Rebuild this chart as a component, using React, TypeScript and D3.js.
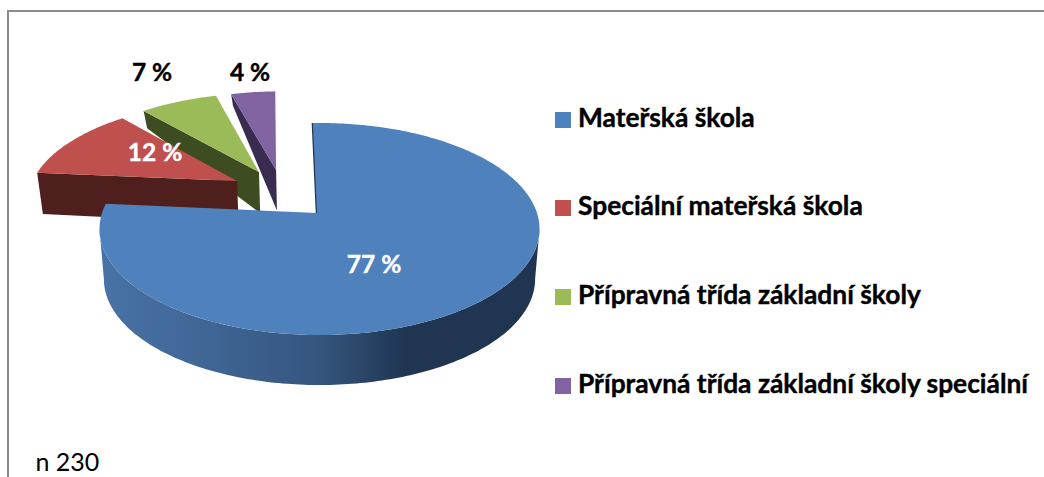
import React from "react";
import * as d3 from "d3";

const categories = [
  "Mateřská škola",
  "Speciální mateřská škola",
  "Přípravná třída základní školy",
  "Přípravná třída základní školy speciální",
];
const shares = [77, 12, 7, 4];
const shareLabels = ["77 %", "12 %", "7 %", "4 %"];
const topColors = ["#4f81bd", "#c0504d", "#9bbb59", "#8064a2"];
const sideColors = ["#1f3552", "#4f1f1d", "#3e4c22", "#392c50"];
const noteText = "n 230";

// Layout: exploded apex of each slice on the pie's plane, and its radius.
const W = 1044;
const H = 477;
const explodeU = [0, -0.398, -0.296, -0.213];
const explodeV = [0, 0.324, 0.421, 0.443];
const apexShiftU = [-0.0115, 0, 0, 0];
const radii = [1, 0.985, 0.985, 0.985];
const labelX = [374, 155, 152, 250];
const labelY = [273, 161, 81, 81];
const labelFill = ["#fff", "#fff", "#000", "#000"];

// Perspective projection of the pie's plane to the screen.
const X0 = 319.5;
const Y0 = 213;
const A = 103.6;
const B = 217.5;
const K = 0.151;
const project = (u: number, v: number): [number, number] => {
  const d = 1 + K * v;
  return [X0 + (B * u) / d, Y0 - (A * v) / d];
};
const depth = d3.scaleLinear().domain([92, 110, 171, 230, 335]).range([11, 17, 41, 50, 50]);
const drop = ([x, y]: [number, number]): [number, number] => [x + (X0 - x) * 0.02, y + depth(y)];

const arcs = d3
  .pie<number>()
  .sort(null)
  .startAngle((-2 * Math.PI) / 180)
  .endAngle((358 * Math.PI) / 180)(shares);

const rimPoint = (i: number, a: number) =>
  project(explodeU[i] + radii[i] * Math.sin(a), explodeV[i] + radii[i] * Math.cos(a));
const apex = (i: number) => project(explodeU[i] + apexShiftU[i], explodeV[i]);

const line = d3.line<[number, number]>();
const rim = (i: number, a0: number, a1: number) => {
  const n = Math.max(8, Math.ceil(((a1 - a0) * 180) / Math.PI));
  return d3.range(n + 1).map((k) => rimPoint(i, a0 + ((a1 - a0) * k) / n));
};

const topFace = (i: number) =>
  line([apex(i), ...rim(i, arcs[i].startAngle, arcs[i].endAngle)])! + "Z";
const radialSide = (i: number) => {
  const p = apex(i);
  const q = rimPoint(i, arcs[i].startAngle);
  return line([p, q, drop(q), drop(p)])! + "Z";
};
// The wall runs between the two points where the rim is widest on screen.
const widest = Math.acos(-K);
const blueRim = () => {
  const top = rim(0, widest, 2 * Math.PI - widest);
  return line([...top, ...top.slice().reverse().map(drop)])! + "Z";
};

const gradStops: [string, string][] = [
  ["0%", "#4873a6"],
  ["25%", "#3f6594"],
  ["50%", "#35557e"],
  ["70%", "#1f3552"],
  ["100%", "#1f3552"],
];

const legendX = 555;
const legendY = [112, 200, 289, 378];
const swatch = 16;
const fontFamily = "Lato, Carlito, 'Open Sans', sans-serif";
const order = [3, 2, 1];

export default function App() {
  return (
    <svg
      width={W}
      height={H}
      viewBox={`0 0 ${W} ${H}`}
      style={{ position: "absolute", left: 0, top: 0, background: "#fff", fontFamily }}
    >
      <defs>
        <linearGradient id="rimGrad" gradientUnits="userSpaceOnUse" x1={100} x2={540} y1={0} y2={0}>
          {gradStops.map(([o, c]) => (
            <stop key={o} offset={o} stopColor={c} />
          ))}
        </linearGradient>
      </defs>
      <path d={`M8 ${H}V11H${W}`} fill="none" stroke="#8c8c8c" strokeWidth={2} />

      {order.map((i) => (
        <g key={categories[i]}>
          <path d={radialSide(i)} fill={sideColors[i]} />
          <path d={topFace(i)} fill={topColors[i]} />
        </g>
      ))}

      <path d={blueRim()} fill="url(#rimGrad)" />
      <path
        d={line([rimPoint(0, arcs[0].startAngle), apex(0)])!}
        stroke={sideColors[0]}
        strokeWidth={2.5}
        fill="none"
      />
      <path d={topFace(0)} fill={topColors[0]} />

      {shareLabels.map((t, i) => (
        <text
          key={t}
          x={labelX[i]}
          y={labelY[i]}
          textAnchor="middle"
          fontSize={24.5}
          fontWeight={700}
          fill={labelFill[i]}
          stroke={labelFill[i]}
          strokeWidth={0.4}
        >
          {t}
        </text>
      ))}

      {categories.map((c, i) => (
        <g key={c}>
          <rect x={legendX} y={legendY[i]} width={swatch} height={swatch} fill={topColors[i]} />
          <text
            x={legendX + 23}
            y={legendY[i] + 15}
            fontSize={26.35}
            fontWeight={700}
            fill="#000"
            stroke="#000"
            strokeWidth={0.4}
          >
            {c}
          </text>
        </g>
      ))}

      <text x={35.5} y={471} fontSize={25} fill="#000">
        {noteText}
      </text>
    </svg>
  );
}
